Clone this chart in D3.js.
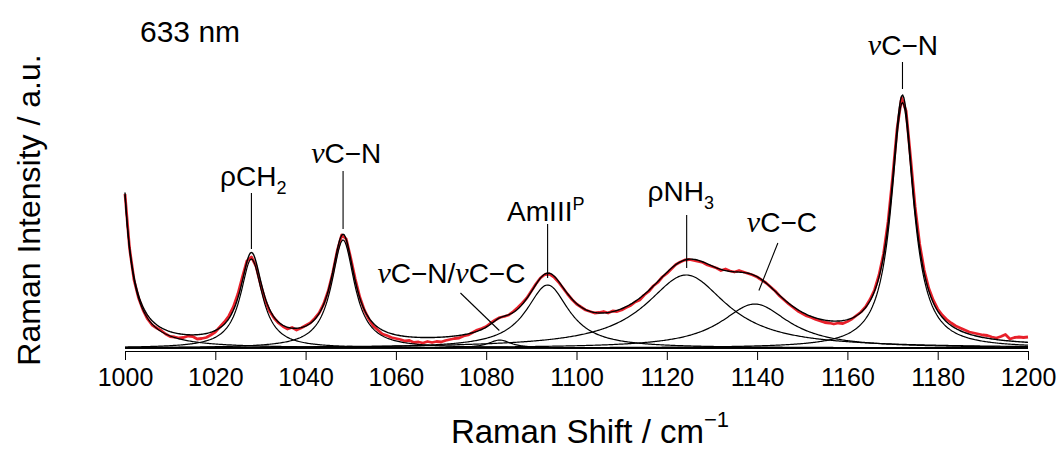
<!DOCTYPE html>
<html>
<head>
<meta charset="utf-8">
<script src="https://cdn.jsdelivr.net/npm/d3@7"></script>
<style>
  body { margin: 0; background: #fff; }
  svg { display: block; }
  text { font-family: "Liberation Sans", Arial, Helvetica, sans-serif; fill: #000; }
  .nu { font-family: "Liberation Serif", "DejaVu Serif", serif; font-style: italic; }
</style>
</head>
<body>
<svg id="chart" width="1060" height="451"></svg>
<script>
// Raman shift axis of the measured spectrum (cm^-1, 1 cm^-1 step)
const shiftStart = 1000;
const shiftEnd = 1200;

// Measured intensity (a.u.), one value per cm^-1 from 1000 to 1200
const measured = [
  154, 100, 68, 50, 38, 29, 23, 20, 17.5, 14,
  11.5, 11, 10, 10.5, 12, 11.5, 9, 9.5, 10.5, 13,
  16, 21, 26, 32, 41, 54, 71, 87, 91, 82,
  64, 48, 37, 30, 25, 21.5, 19, 20.5, 18, 20,
  22.5, 25, 29.5, 35, 44, 57, 75, 97, 113, 109,
  90, 69, 51, 38, 29, 22, 18, 14, 12.5, 10.5,
  9.5, 8.5, 7, 7.5, 5.5, 6, 5, 6.5, 5.5, 6.5,
  6, 7.5, 8.5, 9.5, 10, 12, 13, 15.5, 18, 19.5,
  21.5, 25, 28, 30.5, 31.5, 33, 36.5, 40.5, 45, 50,
  57, 64, 70, 73.5, 74, 71, 66, 60, 54, 48.5,
  44, 41, 38, 36.5, 35, 35.5, 36.5, 35, 37, 36.5,
  38, 40.5, 42.5, 46, 48, 53, 56.5, 62, 65.5, 71,
  74.5, 79, 83.5, 86, 88, 88.5, 87.5, 86.5, 85.5, 83,
  81.5, 80, 77.5, 79, 77, 76, 77.5, 76, 74.5, 73,
  71, 68, 65, 61, 57, 52, 48, 44, 40.5, 37,
  34.5, 32, 30.5, 28.5, 27, 25.5, 25, 24, 25, 24.5,
  26.5, 29, 32.5, 36, 41, 48.5, 58, 73, 94, 126,
  170, 219, 250, 237, 190, 141, 104, 78, 60, 48,
  39, 33, 28.5, 25, 22, 20, 18, 16, 15, 14,
  13, 12.5, 11, 10, 11.5, 13.5, 9, 10.5, 11, 10.5,
  11
];

// Fitted Lorentzian bands: centre (cm^-1), peak height (a.u.), half width at half maximum (cm^-1)
const bandCenters    = [996.5, 1028, 1048.3, 1083, 1093.6, 1124.3, 1139.5, 1172.2];
const bandHeights    = [986, 89, 108, 8, 63, 73, 44, 245.5];
const bandHalfWidths = [1.5, 2.95, 3.1, 3.0, 5.8, 11, 9.2, 3.0];

// Axis ticks
const xTicks = [1000, 1020, 1040, 1060, 1080, 1100, 1120, 1140, 1160, 1180, 1200];

// Band assignments: label centre (cm^-1), label baseline (a.u.), leader line ends
const labelNames  = ["rhoCH2", "nuCN1", "nuCNCC", "amIII", "rhoNH3", "nuCC", "nuCN2"];
const labelX      = [1028.4, 1049.0, 1072.3, 1093.2, 1123.1, 1145.5, 1172.3];
const labelY      = [162, 185, 65, 127, 147, 116, 293];
const leaderFrom  = [[1028, 155], [1048.3, 177], [1074.3, 55], [1093.6, 124], [1124.4, 133], [1144.6, 105], [1172.2, 286]];
const leaderTo    = [[1028, 99], [1048.3, 119], [1082.9, 17.5], [1093.6, 70], [1124.4, 80], [1140.4, 57.5], [1172.2, 259]];

const svg = d3.select("#chart");

const x = d3.scaleLinear().domain([shiftStart, shiftEnd]).range([125, 1028]);
const y = d3.scaleLinear().domain([0, 275]).range([348, 73]);

const shifts = d3.range(shiftStart, shiftEnd + 1);
const spectrum = shifts.map((s, i) => ({ s, v: measured[i] }));

// Lorentzian profile of one fitted band
function lorentz(k, s) {
  const g = bandHalfWidths[k];
  const d = s - bandCenters[k];
  return bandHeights[k] * g * g / (d * d + g * g);
}
const grid = d3.range(shiftStart, shiftEnd + 0.001, 0.25);
const bands = bandCenters.map((c, k) => grid.map(s => ({ s, v: lorentz(k, s) })));
const envelope = grid.map((s, j) => ({ s, v: d3.sum(bands, b => b[j].v) }));

const line = d3.line().x(d => x(d.s)).y(d => y(d.v));

// x axis
const axis = svg.append("g")
  .attr("transform", "translate(0,351)")
  .call(d3.axisBottom(x).tickValues(xTicks).tickSize(9).tickSizeOuter(0).tickPadding(8).tickFormat(d3.format("d")));
axis.select(".domain").attr("stroke", "#000").attr("stroke-width", 1);
axis.selectAll(".tick line").attr("stroke", "#000").attr("stroke-width", 1);
axis.selectAll(".tick text")
  .style("font-family", '"Liberation Sans", Arial, sans-serif')
  .style("font-size", "25px").attr("fill", "#000");

// zero line of the fitted bands
svg.append("line")
  .attr("x1", x(shiftStart)).attr("x2", x(shiftEnd))
  .attr("y1", y(0)).attr("y2", y(0))
  .attr("stroke", "#000").attr("stroke-width", 1.5);

// measured spectrum
svg.append("path").datum(spectrum)
  .attr("fill", "none").attr("stroke", "#e8202a").attr("stroke-width", 2.8)
  .attr("stroke-linejoin", "round").attr("d", line);

// individual fitted bands
svg.append("g").selectAll("path").data(bands).join("path")
  .attr("fill", "none").attr("stroke", "#000").attr("stroke-width", 1.2)
  .attr("d", line);

// fitted envelope
svg.append("path").datum(envelope)
  .attr("fill", "none").attr("stroke", "#000").attr("stroke-width", 1.4)
  .attr("d", line);

// leader lines
svg.append("g").selectAll("line").data(labelNames).join("line")
  .attr("x1", (d, i) => x(leaderFrom[i][0])).attr("y1", (d, i) => y(leaderFrom[i][1]))
  .attr("x2", (d, i) => x(leaderTo[i][0])).attr("y2", (d, i) => y(leaderTo[i][1]))
  .attr("stroke", "#000").attr("stroke-width", 1.1);

// band labels: [text, position] with 0 = normal, 1 = subscript, -1 = superscript, 2 = stretching symbol
const labelParts = {
  rhoCH2: [["ρCH", 0], ["2", 1]],
  nuCN1:  [["ν", 2], ["C−N", 0]],
  nuCNCC: [["ν", 2], ["C−N/", 0], ["ν", 2], ["C−C", 0]],
  amIII:  [["AmIII", 0], ["P", -1]],
  rhoNH3: [["ρNH", 0], ["3", 1]],
  nuCC:   [["ν", 2], ["C−C", 0]],
  nuCN2:  [["ν", 2], ["C−N", 0]]
};
labelNames.forEach((name, i) => {
  const t = svg.append("text")
    .attr("x", x(labelX[i])).attr("y", y(labelY[i]))
    .attr("text-anchor", "middle").style("font-size", "28px");
  let shift = 0;
  labelParts[name].forEach(([txt, pos]) => {
    const ts = t.append("tspan").text(txt);
    if (pos === 2) {
      ts.attr("class", "nu").style("font-size", "30px");
    } else if (pos !== 0) {
      const dy = pos > 0 ? 8 : -11;
      ts.attr("dy", dy - shift).style("font-size", "18px");
      shift = dy;
    }
  });
});

// wavelength note
svg.append("text").attr("x", 140).attr("y", 42).style("font-size", "30px").text("633 nm");

// axis titles
const xt = svg.append("text").attr("x", 590).attr("y", 443)
  .attr("text-anchor", "middle").style("font-size", "33px");
xt.append("tspan").text("Raman Shift / cm");
xt.append("tspan").text("−1").attr("dy", -16).style("font-size", "22px");

svg.append("text")
  .attr("transform", "translate(40,210) rotate(-90)")
  .attr("text-anchor", "middle").style("font-size", "32px")
  .text("Raman Intensity / a.u.");
</script>
</body>
</html>
